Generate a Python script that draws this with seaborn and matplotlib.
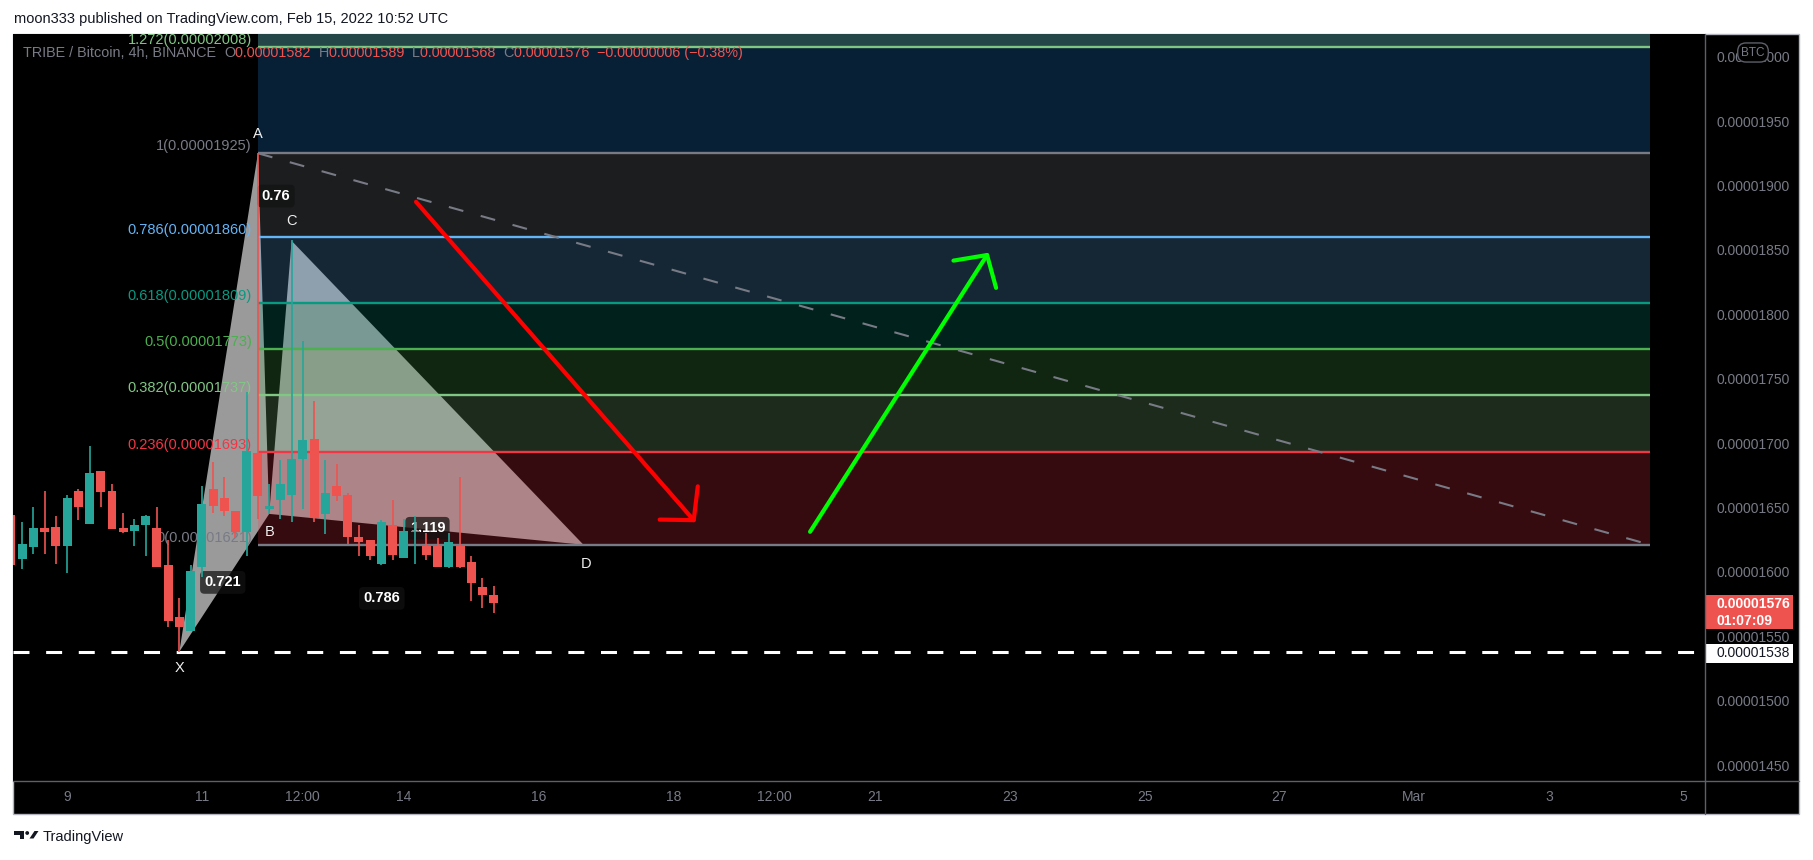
import numpy as np
import pandas as pd
import matplotlib
matplotlib.use("Agg")
import matplotlib.pyplot as plt
import matplotlib.transforms as mtransforms
from matplotlib.patches import Rectangle, Polygon, Circle
from matplotlib.lines import Line2D
import seaborn as sns

# ---------------- data (prices in satoshi = 1e-8 BTC) ----------------
first_candle = "2022-02-08 04:00"
opens = [1644, 1610, 1619, 1634, 1635, 1620, 1663, 1637, 1678, 1663, 1634,
         1632, 1636, 1634, 1605, 1565, 1554, 1604, 1664, 1657, 1647, 1631,
         1692, 1649, 1656, 1660, 1688, 1703, 1645, 1667, 1660, 1627, 1625,
         1606, 1636, 1611, 1631, 1620, 1620, 1604, 1620, 1608, 1588, 1582]
highs = [1650, 1639, 1650, 1663, 1643, 1660, 1664, 1698, 1678, 1668, 1646,
         1641, 1644, 1650, 1625, 1580, 1605, 1667, 1685, 1674, 1647, 1740,
         1925, 1668, 1687, 1858, 1779, 1733, 1687, 1684, 1661, 1636, 1625,
         1640, 1656, 1641, 1643, 1630, 1626, 1630, 1674, 1612, 1595, 1589]
lows = [1600, 1602, 1614, 1614, 1606, 1599, 1640, 1637, 1650, 1633, 1630,
        1620, 1612, 1604, 1557, 1538, 1554, 1596, 1646, 1643, 1626, 1612,
        1641, 1645, 1641, 1639, 1649, 1639, 1629, 1655, 1622, 1612, 1609,
        1605, 1609, 1611, 1606, 1609, 1604, 1603, 1603, 1577, 1572, 1568]
closes = [1605, 1622, 1634, 1631, 1620, 1657, 1650, 1677, 1662, 1633, 1631,
          1636, 1643, 1604, 1562, 1557, 1601, 1653, 1651, 1647, 1631, 1694,
          1659, 1651, 1668, 1688, 1702, 1642, 1661, 1659, 1627, 1623, 1612,
          1639, 1613, 1632, 1632, 1613, 1604, 1623, 1604, 1591, 1582, 1576]

pattern_names = ["X", "A", "B", "C", "D"]
pattern_times = ["2022-02-10 16:00", "2022-02-11 20:00", "2022-02-12 00:00",
                 "2022-02-12 08:00", "2022-02-16 16:00"]
pattern_prices = [1538, 1925, 1645, 1857, 1621]

ratio_texts = ["0.76", "0.721", "0.786", "1.119"]

fib_start_time, fib_start_price = "2022-02-11 20:00", 1925
fib_end_time, fib_end_price = "2022-03-04 12:00", 1621
fib_ratios = [0, 0.236, 0.382, 0.5, 0.618, 0.786, 1, 1.272]
fib_colors = ["#787b86", "#f23645", "#81c784", "#4caf50", "#089981",
              "#64b5f6", "#787b86", "#81c784"]
zone_colors = ["#f23645", "#81c784", "#4caf50", "#089981", "#64b5f6",
               "#848790", "#2196f3"]

support_price = 1538
countdown = "01:07:09"

xtick_times = ["2022-02-09", "2022-02-11", "2022-02-12 12:00", "2022-02-14",
               "2022-02-16", "2022-02-18", "2022-02-19 12:00", "2022-02-21",
               "2022-02-23", "2022-02-25", "2022-02-27", "2022-03-01",
               "2022-03-03", "2022-03-05"]
xtick_labels = ["9", "11", "12:00", "14", "16", "18", "12:00", "21", "23",
                "25", "27", "Mar", "3", "5"]
ytick_values = [1450, 1500, 1550, 1600, 1650, 1700, 1750, 1800, 1850, 1900,
                1950, 2000]

# ---------------- helpers ----------------
T0 = pd.Timestamp("2022-02-01")


def tday(s):
    return (pd.Timestamp(s) - T0) / pd.Timedelta(days=1) + 1


candle_x = [tday(t) for t in pd.date_range(first_candle, periods=len(opens), freq="4h")]
df = pd.DataFrame({"x": candle_x, "o": opens, "h": highs, "l": lows, "c": closes})

sns.set_theme(style="dark", rc={"axes.facecolor": "black"})
plt.rcParams["font.family"] = ["Liberation Sans", "DejaVu Sans"]
plt.rcParams["lines.scale_dashes"] = False
plt.rcParams["axes.grid"] = False

W, H = 1813, 860
fig = plt.figure(figsize=(W / 100, H / 100), dpi=100, facecolor="white")
pix = mtransforms.Affine2D().scale(1, -1).translate(0, H)


def fx(x):
    return x / W


def fy(y):
    return 1 - y / H


# chart frame
fig.add_artist(Rectangle((13, 34), 1786, 780, transform=pix, facecolor="black",
                         edgecolor="#b2b5be", lw=1, zorder=-5))

ax = fig.add_axes([fx(13), fy(781), fx(1705) - fx(13), fy(34) - fy(781)])
ax.set_facecolor("black")
for s in ax.spines.values():
    s.set_visible(False)
ax.set_xlim(8.197, 33.316)
ax.set_ylim(1437.6, 2017.6)

GREEN, RED = "#26a69a", "#ef5350"
GRAY = "#787b86"

# ---- harmonic pattern triangles (under the fib zones) ----
px = [tday(t) for t in pattern_times]
pp = pattern_prices
ax.fill([px[0], px[1], px[2]], [pp[0], pp[1], pp[2]], color="#9a9a9a", lw=0, zorder=1)
ax.fill([px[2], px[3], px[4]], [pp[2], pp[3], pp[4]], color="#9a9a9a", lw=0, zorder=1)

# ---- fib retracement ----
fa, fb = tday(fib_start_time), tday(fib_end_time)
rng = fib_start_price - fib_end_price
levels = [fib_end_price + r * rng for r in fib_ratios]
for i in range(len(levels) - 1):
    ax.fill_between([fa, fb], levels[i], levels[i + 1], color=zone_colors[i],
                    alpha=0.22, lw=0, zorder=2)
ax.fill_between([fa, fb], levels[-1], fib_end_price + 1.618 * rng,
                color="#244648", lw=0, zorder=2)
for r, lv, c in zip(fib_ratios, levels, fib_colors):
    ax.hlines(lv, fa, fb, color=c, lw=1.7, zorder=3)
    lab = f"{r:g}({lv / 1e8:.8f})"
    ax.annotate(lab, xy=(fa, lv), xytext=(-6, 0), textcoords="offset pixels",
                ha="right", va="bottom", color=c, fontsize=10.5, clip_on=True,
                zorder=3)

# fib trend line (dashed)
sns.lineplot(x=[fa, fb], y=[fib_start_price, fib_end_price], ax=ax, color=GRAY,
             lw=1.5, linestyle=(0, (10.8, 13)), zorder=3)

# support dashed line
ax.axhline(support_price, color="white", lw=2.2, linestyle=(0, (11.5, 12)), zorder=3.2)

# ---- pattern labels ----
offs = {"X": (0, -16), "A": (0, 19), "B": (0, -18), "C": (0, 20), "D": (3, -19)}
for n, x_, y_ in zip(pattern_names, px, pp):
    ax.annotate(n, xy=(x_, y_), xytext=offs[n], textcoords="offset pixels",
                ha="center", va="center", color="#f0f0f0", fontsize=10.5, zorder=3.5)

ratio_pos = [(12.102, 1891.8), (11.311, 1591.8), (13.672, 1579.4), (14.35, 1633.8)]
for t, (x_, y_) in zip(ratio_texts, ratio_pos):
    ax.text(x_, y_, t, ha="center", va="center", color="white", fontsize=10.5,
            fontweight="bold", zorder=3.6,
            bbox=dict(boxstyle="round,pad=0.3", fc="#121212", ec="none", alpha=0.72))

# ---- candles ----
up = df["c"] >= df["o"]
cols = np.where(up, GREEN, RED)
ax.vlines(df["x"], df["l"], df["h"], colors=cols, lw=1.2, zorder=4)
bottoms = np.minimum(df["o"], df["c"])
heights = np.maximum(np.abs(df["c"] - df["o"]), 0.9)
ax.bar(df["x"], heights, bottom=bottoms, width=0.1333, color=cols, lw=0, zorder=4.1)

# ---- arrows ----
ax.annotate("", xy=(18.33, 1638.5), xytext=(14.18, 1887.3),
            arrowprops=dict(arrowstyle="->,head_length=0.82,head_width=0.91",
                            color="#ff0000", lw=3, shrinkA=0, shrinkB=0,
                            mutation_scale=20), zorder=6)
ax.annotate("", xy=(22.68, 1847.8), xytext=(20.03, 1631.1),
            arrowprops=dict(arrowstyle="->,head_length=0.82,head_width=0.91",
                            color="#00ff00", lw=3, shrinkA=0, shrinkB=0,
                            mutation_scale=20), zorder=6)

# ---- axes ticks ----
ax.yaxis.tick_right()
ax.set_yticks(ytick_values)
ax.set_yticklabels([f"{v / 1e8:.8f}" for v in ytick_values])
ax.tick_params(axis="y", length=0, pad=8.6, labelsize=10, labelcolor=GRAY)
ax.set_xticks([tday(t) for t in xtick_times])
ax.set_xticklabels(xtick_labels)
ax.tick_params(axis="x", length=0, pad=6.5, labelsize=10, labelcolor=GRAY)

# ---- legend line ----
o, h, l, c = opens[-1], highs[-1], lows[-1], closes[-1]
chg = closes[-1] - closes[-2]
pct = chg / closes[-2] * 100
sign = "\u2212" if chg < 0 else "+"
pieces = [("TRIBE / Bitcoin, 4h, BINANCE  ", GRAY), ("O", GRAY), (f"{o / 1e8:.8f}  ", RED),
          ("H", GRAY), (f"{h / 1e8:.8f}  ", RED), ("L", GRAY), (f"{l / 1e8:.8f}  ", RED),
          ("C", GRAY), (f"{c / 1e8:.8f}  ", RED),
          (f"{sign}{abs(chg) / 1e8:.8f} ({sign}{abs(pct):.2f}%)", RED)]
prev = ax.text(10 / 1692, (781 - 53) / 747, pieces[0][0], transform=ax.transAxes,
               ha="left", va="center", color=pieces[0][1], fontsize=10.4, zorder=7)
for s, col in pieces[1:]:
    prev = ax.annotate(s, xy=(1, 0.5), xycoords=prev, ha="left", va="center",
                       color=col, fontsize=10.4, zorder=7)

# ---- price tags ----
btr = mtransforms.blended_transform_factory(ax.transAxes, ax.transData)
x0t, x1t = 1.0, 1 + 88 / 1692
ax.add_patch(Rectangle((x0t, 1555.6), x1t - x0t, 1582.0 - 1555.6, transform=btr,
                       facecolor=RED, edgecolor="none", clip_on=False, zorder=8))
ax.text(1 + 12 / 1692, 1575.3, f"{c / 1e8:.8f}", transform=btr, ha="left", va="center",
        color="white", fontsize=10, fontweight="bold", clip_on=False, zorder=9)
ax.text(1 + 12 / 1692, 1562.2, countdown, transform=btr, ha="left", va="center",
        color="white", fontsize=10, fontweight="bold", clip_on=False, zorder=9)
ax.add_patch(Rectangle((x0t, 1529.2), x1t - x0t, 1544.0 - 1529.2, transform=btr,
                       facecolor="white", edgecolor="none", clip_on=False, zorder=8))
ax.text(1 + 12 / 1692, 1536.6, f"{support_price / 1e8:.8f}", transform=btr, ha="left",
        va="center", color="#131722", fontsize=10, clip_on=False, zorder=9)

# ---- separators ----
fig.add_artist(Line2D([1705, 1705], [34, 814], transform=pix, color="#5d606b", lw=1, zorder=10))
fig.add_artist(Line2D([13, 1799], [781, 781], transform=pix, color="#5d606b", lw=1, zorder=10))

# BTC badge
fig.text(1753, 52.5, "BTC", transform=pix, ha="center", va="center", fontsize=8.5,
         color=GRAY, zorder=11,
         bbox=dict(boxstyle="round,pad=0.3,rounding_size=0.7", fc="black", ec="#5d606b", lw=1))

# header / footer
fig.text(14, 18.5, "moon333 published on TradingView.com, Feb 15, 2022 10:52 UTC",
         transform=pix, ha="left", va="center", fontsize=10.5, color="#131722")
fig.add_artist(Polygon([(13.5, 831), (24, 831), (24, 838.5), (19.5, 838.5), (19.5, 834.8),
                        (13.5, 834.8)], closed=True, transform=pix, fc="#131722", ec="none"))
fig.add_artist(Circle((27.2, 833), 1.9, transform=pix, fc="#131722", ec="none"))
fig.add_artist(Polygon([(29.5, 838.5), (33.5, 838.5), (38.5, 831), (34.5, 831)], closed=True,
                       transform=pix, fc="#131722", ec="none"))
fig.text(43, 841, "TradingView", transform=pix, ha="left", va="baseline", fontsize=10.5,
         color="#131722")

fig.savefig("out.png", dpi=100, facecolor="white")
